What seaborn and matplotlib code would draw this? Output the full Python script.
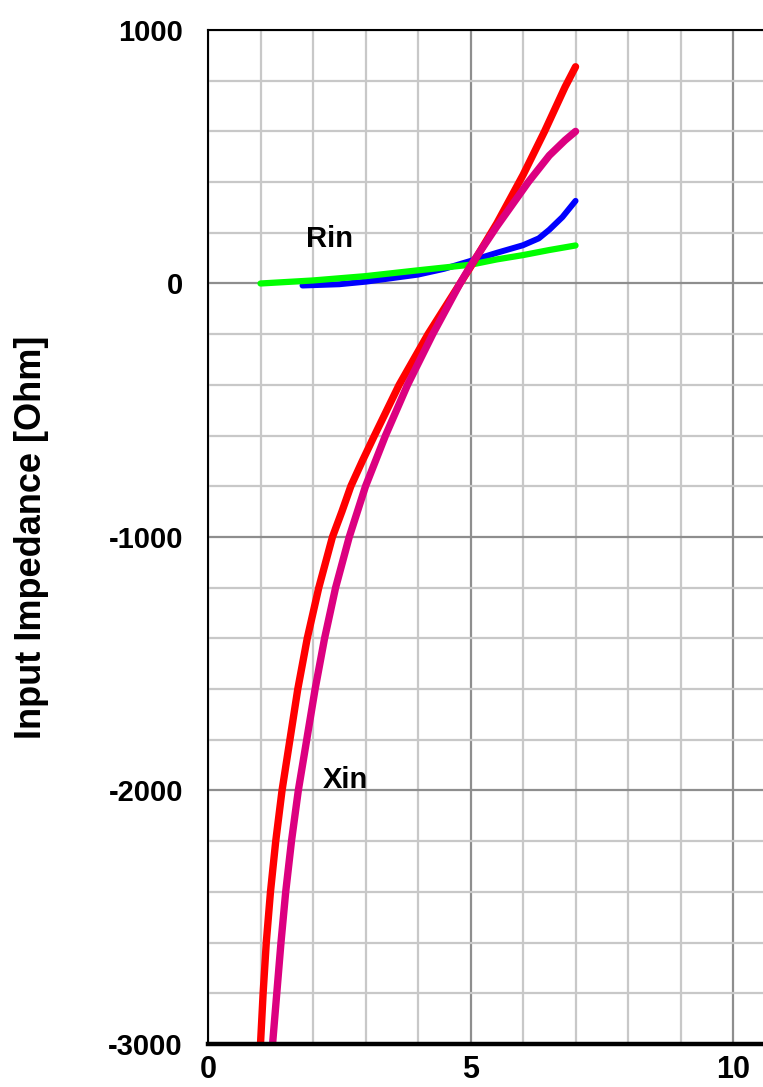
import numpy as np
import matplotlib
matplotlib.use("Agg")
import matplotlib.pyplot as plt
import seaborn as sns
from matplotlib.ticker import MultipleLocator

# values
xin_red_x = [1.00, 1.05, 1.11, 1.19, 1.29, 1.41, 1.56, 1.71, 1.89, 2.11, 2.37, 2.55,
             2.72, 2.94, 3.17, 3.64, 4.19, 4.80, 5.00, 5.50, 6.00, 6.41, 6.80, 7.00]
xin_red_y = [-3000, -2800, -2600, -2400, -2200, -2000, -1800, -1600, -1400, -1200, -1000, -900,
             -800, -700, -600, -400, -200, 0, 65, 237, 428, 600, 775, 855]

xin_mag_x = [1.23, 1.31, 1.39, 1.48, 1.59, 1.72, 1.88, 2.04, 2.22, 2.43, 2.69,
             3.00, 3.38, 3.80, 4.28, 4.80, 5.00, 5.50, 6.10, 6.50, 6.80, 7.00]
xin_mag_y = [-3000, -2800, -2600, -2400, -2200, -2000, -1800, -1600, -1400, -1200, -1000,
             -800, -600, -400, -200, 0, 70, 225, 400, 505, 565, 600]

rin_blue_x = [1.8, 2.5, 3.0, 4.0, 4.5, 5.0, 5.5, 6.0, 6.3, 6.5, 6.75, 7.0]
rin_blue_y = [-8, -3, 7, 35, 58, 89, 121, 151, 178, 212, 262, 326]

rin_green_x = [1.0, 2.0, 3.0, 4.0, 5.0, 5.5, 6.0, 6.5, 7.0]
rin_green_y = [0, 12, 29, 52, 74, 95, 112, 132, 150]

y_major = [1000, 0, -1000, -2000, -3000]
x_major = [0, 5, 10]

sns.set_style("white")
plt.rcParams['font.family'] = ['Liberation Sans', 'DejaVu Sans']
plt.rcParams['font.weight'] = 'bold'
plt.rcParams['text.color'] = 'black'
plt.rcParams['axes.labelcolor'] = 'black'
plt.rcParams['xtick.color'] = 'black'
plt.rcParams['ytick.color'] = 'black'

fig = plt.figure(figsize=(7.63, 10.87), dpi=100)
ax = fig.add_axes([0.2726, 0.0396, 0.7274, 0.9328])

ax.set_xlim(0, 10.57)
ax.set_ylim(-3000, 1000)

# grid: light minor, darker major
ax.xaxis.set_major_locator(MultipleLocator(5))
ax.xaxis.set_minor_locator(MultipleLocator(1))
ax.yaxis.set_major_locator(MultipleLocator(1000))
ax.yaxis.set_minor_locator(MultipleLocator(200))
ax.grid(which='minor', color='#c8c8c8', lw=1.6)
ax.grid(which='major', color='#8e8e8e', lw=1.6)
ax.set_axisbelow(True)

sns.lineplot(x=rin_blue_x, y=rin_blue_y, color='#0000ff', lw=4.3,
             sort=False, estimator=None, ax=ax)
sns.lineplot(x=rin_green_x, y=rin_green_y, color='#00ff00', lw=4.5,
             sort=False, estimator=None, ax=ax)
sns.lineplot(x=xin_red_x, y=xin_red_y, color='#ff0000', lw=5.3,
             sort=False, estimator=None, ax=ax)
sns.lineplot(x=xin_mag_x, y=xin_mag_y, color='#dc0080', lw=5.3,
             sort=False, estimator=None, ax=ax)

ax.text(2.32, 174, "Rin", fontsize=21, fontweight='bold', ha='center', va='center')
ax.text(2.61, -1960, "Xin", fontsize=21, fontweight='bold', ha='center', va='center')

ax.set_xticks(x_major)
ax.set_xticklabels([str(v) for v in x_major])
ax.set_yticks(y_major)
ax.set_yticklabels([str(v) for v in y_major])

ax.tick_params(axis='y', which='major', length=16, width=1.5, pad=2,
               labelsize=21, direction='out', color='black', labelcolor='black')
ax.tick_params(axis='y', which='minor', length=7.5, width=1.5,
               direction='out', color='black')
ax.tick_params(axis='x', which='both', length=5, width=1.5, pad=3,
               labelsize=22, direction='out', color='black', labelcolor='black')
for lab in ax.get_xticklabels() + ax.get_yticklabels():
    lab.set_fontweight('bold')

for side in ['left', 'top']:
    ax.spines[side].set_visible(True)
    ax.spines[side].set_color('black')
    ax.spines[side].set_linewidth(1.5)
ax.spines['bottom'].set_color('black')
ax.spines['bottom'].set_linewidth(3.2)
ax.spines['right'].set_visible(False)

ax.set_ylabel("Input Impedance [Ohm]", fontsize=26, fontweight='bold', va='center')
ax.yaxis.set_label_coords(-0.318, 0.5)

fig.savefig("out.png", dpi=100)
